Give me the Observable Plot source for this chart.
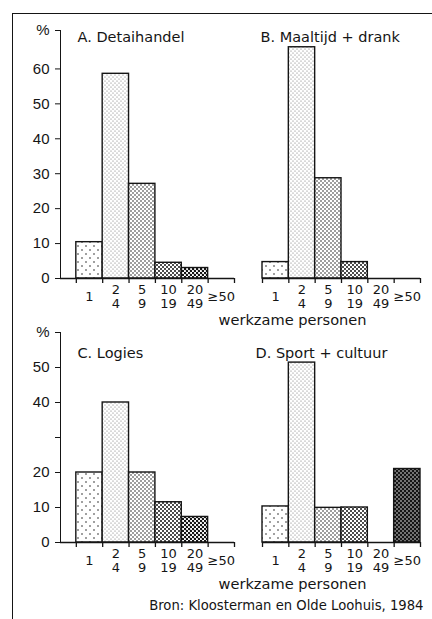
<!DOCTYPE html>
<html>
<head>
<meta charset="utf-8">
<script src="https://cdn.jsdelivr.net/npm/d3@7"></script>
<script src="https://cdn.jsdelivr.net/npm/@observablehq/plot@0.6"></script>
<style>
  body { margin: 0; background: #fff; }
  #wrap { position: relative; width: 432px; height: 619px; overflow: hidden; background: #fff; }
  #frame { position: absolute; left: 12px; top: 13px; width: 440px; height: 640px;
           border-top: 1.6px solid #151515; border-left: 1.6px solid #151515; }
  .panel { position: absolute; left: 0; }
</style>
</head>
<body>
<div id="wrap">
  <div id="frame"></div>
  <svg width="0" height="0" style="position:absolute;left:0;top:0">
    <defs>
      <pattern id="p1" width="8" height="8" patternUnits="userSpaceOnUse">
        <rect width="8" height="8" fill="#fff"/>
        <circle cx="2" cy="2" r="0.75" fill="#111"/>
        <circle cx="6" cy="6" r="0.75" fill="#111"/>
      </pattern>
      <pattern id="p2" width="4" height="4" patternUnits="userSpaceOnUse">
        <rect width="4" height="4" fill="#fff"/>
        <circle cx="1" cy="1" r="0.5" fill="#555"/>
        <circle cx="3" cy="3" r="0.5" fill="#555"/>
      </pattern>
      <pattern id="p3" width="4" height="4" patternUnits="userSpaceOnUse">
        <rect width="4" height="4" fill="#fff"/>
        <circle cx="1" cy="1" r="0.8" fill="#222"/>
        <circle cx="3" cy="3" r="0.8" fill="#222"/>
      </pattern>
      <pattern id="p4" width="4" height="4" patternUnits="userSpaceOnUse">
        <rect width="4" height="4" fill="#fff"/>
        <circle cx="1" cy="1" r="1.0" fill="#111"/>
        <circle cx="3" cy="3" r="1.0" fill="#111"/>
      </pattern>
      <pattern id="p5" width="4" height="4" patternUnits="userSpaceOnUse">
        <rect width="4" height="4" fill="#fff"/>
        <circle cx="1" cy="1" r="1.25" fill="#111"/>
        <circle cx="3" cy="3" r="1.25" fill="#111"/>
      </pattern>
      <pattern id="p6" width="4" height="4" patternUnits="userSpaceOnUse">
        <rect width="4" height="4" fill="#151515"/>
        <circle cx="1" cy="1" r="0.75" fill="#fff"/>
        <circle cx="3" cy="3" r="0.75" fill="#fff"/>
      </pattern>
    </defs>
  </svg>
</div>
<script>
// ---------- data ----------
const bins = ["1", "2-4", "5-9", "10-19", "20-49", ">=50"];
const tickLabels = ["1", "2\n4", "5\n9", "10\n19", "20\n49", "≥50"];
const patternFills = ["url(#p1)", "url(#p2)", "url(#p3)", "url(#p4)", "url(#p5)", "url(#p6)"];

const valuesA = [10.4, 58.6, 27.1, 4.5, 3.0, 0];
const valuesB = [4.7, 66.2, 28.7, 4.7, 0, 0];
const valuesC = [20, 40, 20, 11.5, 7.3, 0];
const valuesD = [10.3, 51.4, 9.9, 10.0, 0, 21.0];

const titles = ["A. Detaihandel", "B. Maaltijd + drank", "C. Logies", "D. Sport + cultuur"];
const yTicksTop = [0, 10, 20, 30, 40, 50, 60];
const yTicksBottom = [0, 10, 20, 30, 40, 50];
const yUnlabelledBottom = [30];
const yTopTop = 71;
const yTopBottom = 60;
const yUnit = "%";
const xLabel = "werkzame personen";
const source = "Bron: Kloosterman en Olde Loohuis, 1984";

// ---------- drawing ----------
const FONT = "DejaVu Sans";
const INK = "#151515";

function panel({values, title, yTop, yTicks, yHidden = [], showY, left, top, height,
                marginTop, marginBottom, titleDx, titleDy, withXLabel, withSource}) {
  const rows = bins.map((b, i) => ({bin: b, i, v: values[i], label: tickLabels[i]}));
  const edges = d3.range(bins.length + 1);
  const width = 432;
  const rangeLeft = showY ? 60 : 262;
  const rangeRight = showY ? 234 : 420;
  const marks = [
    Plot.rectY(rows.filter(d => d.v > 0), {
      x1: d => d.i, x2: d => d.i + 1, y1: 0, y2: "v",
      fill: "bin", stroke: INK, strokeWidth: 1.4
    }),
    Plot.ruleY([0], {stroke: INK, strokeWidth: 1.4}),
    Plot.ruleX(edges, {x: d => d, y1: 0, y2: 0, insetBottom: -5, stroke: INK, strokeWidth: 1.3}),
    Plot.text(rows, {
      x: d => d.i + 0.5, y: 0, text: "label", dy: 18, lineAnchor: "middle",
      lineHeight: 1.08, fontFamily: FONT, fontSize: 13, fill: INK
    }),
    Plot.text([title], {
      frameAnchor: "top-left", dx: titleDx, dy: titleDy, textAnchor: "start",
      lineAnchor: "middle", fontFamily: FONT, fontSize: 14.5, fill: INK
    })
  ];
  if (withXLabel) {
    marks.push(Plot.text([xLabel], {
      frameAnchor: "bottom-left", dx: -44, dy: 42, textAnchor: "start",
      lineAnchor: "middle", fontFamily: FONT, fontSize: 14.6, fill: INK
    }));
  }
  if (withSource) {
    marks.push(Plot.text([source], {
      frameAnchor: "bottom-right", dx: 3, dy: 63, textAnchor: "end",
      lineAnchor: "middle", fontFamily: FONT, fontSize: 13.2, fill: INK
    }));
  }
  const yScale = showY
    ? {domain: [0, yTop], ticks: [...yTicks, yTop],
       tickFormat: d => d === yTop ? yUnit : (yHidden.includes(d) ? "" : String(d)),
       tickSize: 5, tickPadding: 6, line: true, label: null}
    : {domain: [0, yTop], axis: null};
  const chart = Plot.plot({
    width, height,
    marginLeft: rangeLeft, marginRight: width - rangeRight,
    marginTop, marginBottom,
    x: {domain: showY ? [-0.6, bins.length] : [0, bins.length], axis: null},
    y: yScale,
    color: {type: "ordinal", domain: bins, range: patternFills},
    style: {background: "transparent", overflow: "visible", fontFamily: "Liberation Sans",
            fontSize: "15px", color: INK},
    marks
  });
  chart.classList.add("panel");
  chart.style.left = left + "px";
  chart.style.top = top + "px";
  chart.style.position = "absolute";
  document.getElementById("wrap").appendChild(chart);
}

// Top row: baseline at 278, top of axis at 30
panel({values: valuesA, title: titles[0], yTop: yTopTop, yTicks: yTicksTop, showY: true,
       left: 0, top: 0, height: 330, marginTop: 30, marginBottom: 52, titleDx: 17, titleDy: 7});
panel({values: valuesB, title: titles[1], yTop: yTopTop, yTicks: yTicksTop, showY: false,
       left: 0, top: 0, height: 330, marginTop: 30, marginBottom: 52, titleDx: -2, titleDy: 7,
       withXLabel: true});
// Bottom row: baseline at 542, top of axis at 332
panel({values: valuesC, title: titles[2], yTop: yTopBottom, yTicks: yTicksBottom, yHidden: yUnlabelledBottom,
       showY: true, left: 0, top: 300, height: 319, marginTop: 32, marginBottom: 77, titleDx: 17, titleDy: 21});
panel({values: valuesD, title: titles[3], yTop: yTopBottom, yTicks: yTicksBottom, showY: false,
       left: 0, top: 300, height: 319, marginTop: 32, marginBottom: 77, titleDx: -7, titleDy: 21,
       withXLabel: true, withSource: true});
</script>
</body>
</html>
